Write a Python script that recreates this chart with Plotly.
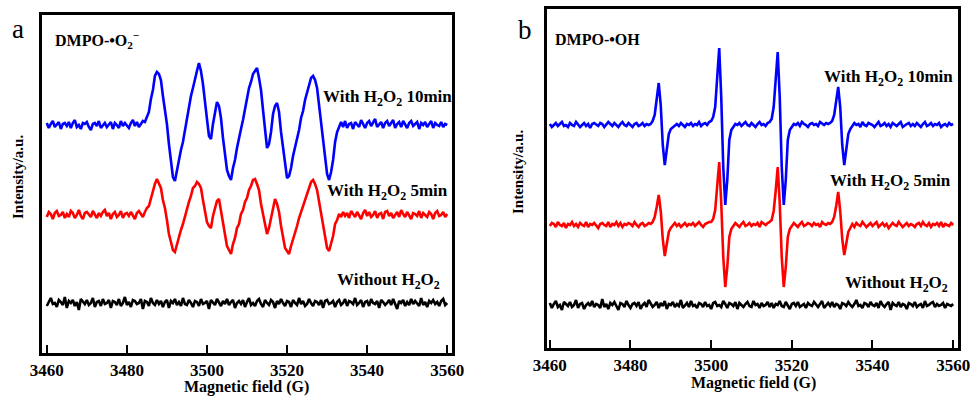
import numpy as np
import plotly.graph_objects as go

# Magnetic field sweep (G), 0.5 G steps
FIELD = np.linspace(3460, 3560, 201)
X_TICKS = [3460, 3480, 3500, 3520, 3540, 3560]

# ---- Panel a : DMPO-•O2-  (intensity, a.u., relative to each spectrum's baseline)
A_10MIN = [
    2, -3, 1, 4, -2, 0, 3, -4, 1, 2,
    -1, 3, -3, 2, 5, -2, 0, -4, 2, 1,
    3, -2, -5, 1, 2, -1, 4, -3, 0, 2,
    -2, 1, 3, -4, 2, 0, -3, 4, -1, 2,
    0, -3, 2, 5, -1, 3, -2, 1, 4, 3,
    9, 13, 26, 35, 49, 53, 51, 45, 29, 16,
    1, -19, -37, -52, -56, -45, -37, -25, -17, -5,
    7, 15, 29, 37, 47, 54, 62, 54, 41, 21,
    6, -11, -14, 1, 13, 23, 19, 7, -13, -29,
    -45, -51, -55, -43, -35, -23, -15, -4, 5, 17,
    25, 37, 43, 51, 54, 57, 47, 35, 15, -3,
    -23, -19, -7, 11, 19, 22, 13, -7, -23, -43,
    -53, -51, -43, -31, -23, -12, -5, 7, 14, 25,
    33, 39, 47, 49, 45, 37, 19, 5, -15, -31,
    -49, -55, -47, -35, -17, -7, -1, 3, -2, 4,
    -3, 1, 2, -4, 3, 0, -2, 5, 1, -3,
    2, 4, -1, 3, 6, -2, 1, 3, -3, 2,
    4, -1, 2, 5, -3, 1, 3, -2, 4, 0,
    -3, 2, 4, -1, 1, 3, -4, 2, 0, 3,
    -2, 1, 4, -3, 2, 0, -1, 3, -2, 1,
    0,
]
A_5MIN = [
    -2, 3, 1, -4, 2, 4, -1, 0, 3, -3,
    1, -2, 4, 2, -3, 0, 5, -1, -4, 2,
    3, 0, -2, 4, 1, -3, 2, -1, 3, 5,
    -1, 2, -4, 1, 3, -2, 0, 4, -3, 1,
    2, -1, 3, 0, -4, 2, 4, 1, -2, 3,
    7, 9, 17, 23, 31, 36, 31, 27, 15, 7,
    -5, -19, -27, -35, -37, -29, -23, -15, -9, -1,
    5, 13, 19, 27, 29, 33, 31, 27, 15, 5,
    -7, -11, -13, -1, 7, 14, 16, 5, -9, -19,
    -31, -35, -39, -29, -23, -13, -9, 1, 5, 13,
    17, 25, 29, 35, 36, 31, 25, 11, 1, -11,
    -19, -13, -3, 9, 16, 11, 3, -11, -21, -33,
    -36, -39, -31, -25, -17, -11, -3, 3, 11, 15,
    23, 27, 33, 35, 31, 25, 13, 3, -11, -21,
    -33, -36, -29, -21, -9, -5, 1, -2, 3, -1,
    2, -3, 4, 1, -2, 3, 0, -4, 2, 5,
    -1, 3, -2, 0, 4, -3, 1, 2, -4, 3,
    4, -1, 2, -3, 0, 3, -2, 5, 1, -2,
    3, 0, -4, 2, 1, -1, 4, -3, 2, 0,
    -2, 3, 1, -4, 2, 4, -1, 0, 3, -2,
    1,
]
A_NONE = [
    -3, 2, 5, -1, 0, -4, 3, 1, -2, 6,
    -5, 2, 0, 3, -3, 1, -7, 4, 2, -1,
    3, -2, 0, 5, -4, 1, 2, -3, 4, -1,
    0, 3, -5, 2, 1, -2, 4, -3, 0, 6,
    -2, 1, -4, 3, 2, -1, 0, 4, -6, 2,
    1, -3, 5, 0, -2, 3, -1, 2, -4, 1,
    3, -5, 2, 0, 4, -2, 1, -3, 5, -1,
    -2, 3, 0, -4, 2, 1, -3, 4, -1, 0,
    2, -6, 3, 1, -2, 4, 0, -3, 2, -1,
    4, -2, 1, 3, -5, 0, 2, -1, 3, -4,
    1, 5, -2, 0, -3, 2, 4, -1, -4, 3,
    0, -2, 3, 1, -5, 2, -1, 4, 0, -3,
    2, 1, -4, 3, 0, -2, 5, -1, 2, -3,
    -1, 4, 0, -3, 2, 1, -2, 3, -5, 2,
    3, -1, 0, 2, -4, 1, 3, -2, 0, 4,
    -3, 2, 1, -1, 5, -2, 0, 3, -4, 1,
    2, -3, 4, 0, -1, 2, -5, 3, 1, -2,
    0, 3, -2, 4, -1, -6, 2, 0, 3, -3,
    1, -2, 4, -1, 2, 0, -3, 5, -2, 1,
    -4, 2, 0, 3, -1, 1, -3, 2, 4, -2,
    0,
]

# ---- Panel b : DMPO-•OH
B_10MIN = [
    1, -2, 0, 2, -1, 1, 3, -1, 0, -2,
    2, 0, -1, 3, 1, -2, 0, 2, -1, 1,
    -3, 1, 2, 0, -1, 2, 1, -2, 0, 3,
    1, -1, 2, 0, -2, 1, 3, 0, -1, 2,
    0, -2, 1, 2, -1, 0, 2, -1, 1, 0,
    1, 4, 10, 25, 42, 20, -20, -40, -24, -9,
    -4, -2, 0, 1, -1, 2, 0, -2, 1, 0,
    2, -1, 1, 0, 3, -1, 1, 2, 0, 3,
    4, 8, 18, 45, 77, 28, -42, -80, -55, -15,
    -5, -2, 1, 0, 2, -1, 1, 3, 0, -1,
    2, 0, -2, 1, 3, 0, 1, -1, 2, 3,
    6, 18, 45, 73, 28, -42, -80, -55, -15, -5,
    -2, 1, 0, 2, -1, 3, 1, 0, -2, 1,
    2, 0, 1, -1, 3, 1, 0, 2, 1, 2,
    4, 10, 24, 38, 18, -20, -40, -24, -9, -4,
    -1, 2, 0, 1, -2, 3, 0, -1, 2, 1,
    0, -2, 1, 3, -1, 0, 2, -1, 1, -2,
    2, 0, -1, 1, 3, -2, 0, 1, 2, -1,
    1, -1, 2, 0, -2, 1, 3, -1, 0, 2,
    -1, 1, 0, 2, -2, 0, 1, -1, 2, 0,
    1,
]
B_5MIN = [
    -1, 2, 1, -2, 3, 0, -1, 2, -3, 1,
    0, 3, -1, 1, -2, 2, 0, -1, 3, -2,
    1, 0, 2, -1, -3, 1, 2, 0, -1, 3,
    -2, 1, 0, 3, -1, 2, -2, 1, 0, 2,
    1, -1, 3, 0, -2, 1, 2, -1, 0, 2,
    1, 3, 8, 18, 30, 14, -14, -31, -18, -7,
    -3, 0, 2, -1, 1, -2, 0, 2, -1, 1,
    0, 2, -1, 1, 3, 0, -2, 1, 2, 3,
    3, 6, 15, 37, 63, 22, -32, -62, -42, -12,
    -4, -1, 2, 0, -2, 1, 3, -1, 0, 2,
    -1, 1, 0, 2, -2, 3, 1, 0, 2, 3,
    5, 14, 34, 58, 22, -32, -62, -42, -12, -4,
    -1, 2, 0, -2, 1, 3, -1, 0, 2, 1,
    -1, 2, 0, 1, -2, 3, 1, 0, 2, 1,
    3, 8, 19, 33, 14, -14, -30, -18, -7, -3,
    1, -2, 2, 0, -1, 3, 1, -2, 0, 2,
    -1, 1, 3, -2, 0, 2, -1, 1, -3, 0,
    2, 0, -1, 3, 1, -2, 0, 2, -1, 1,
    0, -2, 1, 2, -1, 3, 0, -1, 2, -2,
    1, 0, 2, -1, 3, -2, 1, 0, -1, 2,
    0,
]
B_NONE = [
    2, -3, 1, 4, -2, 0, -5, 3, 1, -1,
    3, -2, 0, 5, -3, 1, 2, -4, 0, 2,
    -1, 4, -2, 1, 0, -3, 6, -2, 1, -4,
    2, 0, 3, -1, -5, 2, 1, -2, 4, 0,
    -3, 1, 2, -1, 3, -4, 0, 2, -2, 5,
    1, -2, 0, 3, -3, 2, -1, 4, -4, 1,
    0, 3, -2, 1, -1, 5, -3, 0, 2, -2,
    4, -1, 0, -3, 2, 1, -2, 3, -1, 0,
    -4, 2, 3, -1, 0, -2, 4, 1, -3, 2,
    1, -1, 3, -4, 2, 0, -2, 1, 3, -1,
    -2, 4, 0, 1, -3, 2, -1, 0, 3, -2,
    2, -3, 1, 0, 4, -1, -2, 3, 0, -4,
    1, 2, -1, 3, -2, 0, 1, -3, 2, 0,
    -1, 3, 0, -2, 1, 4, -3, 0, 2, -1,
    3, -2, 1, 0, -4, 2, 1, -1, 3, 0,
    -2, 1, 5, -1, 0, -3, 2, 1, -2, 3,
    0, -1, 2, -3, 4, 0, -2, 1, 3, -5,
    2, 0, -1, 3, -2, 1, 0, -4, 2, 1,
    -1, 3, -2, 0, 1, -3, 4, -1, 0, 2,
    3, -2, 1, -1, 0, 2, -3, 1, 0, -1,
    1,
]

# vertical stacking offsets of the spectra (a.u.)
OFFSET_A = {"10min": 228, "5min": 138, "none": 50}
OFFSET_B = {"10min": 223, "5min": 123, "none": 43}

BLUE, RED, BLACK = "#0000ff", "#ff0000", "#000000"
SERIF = "Liberation Serif"

W, H = 970, 396


def px(x):
    return x / W


def py(y):
    return 1 - y / H


fig = go.Figure()
for vals, key, col in [(A_10MIN, "10min", BLUE), (A_5MIN, "5min", RED), (A_NONE, "none", BLACK)]:
    fig.add_trace(go.Scatter(x=FIELD, y=np.array(vals) + OFFSET_A[key], mode="lines",
                             line=dict(color=col, width=2.6), xaxis="x", yaxis="y",
                             showlegend=False))
for vals, key, col in [(B_10MIN, "10min", BLUE), (B_5MIN, "5min", RED), (B_NONE, "none", BLACK)]:
    fig.add_trace(go.Scatter(x=FIELD, y=np.array(vals) + OFFSET_B[key], mode="lines",
                             line=dict(color=col, width=2.6), xaxis="x2", yaxis="y2",
                             showlegend=False))

xax = dict(tickvals=X_TICKS, ticks="inside", ticklen=8, tickwidth=2, tickcolor="black",
           showline=True, linewidth=2.5, linecolor="black", mirror=True, automargin=False,
           showgrid=False, zeroline=False, ticklabelstandoff=0, ticklabeloverflow="allow",
           tickfont=dict(family=SERIF, size=17, color="black", weight="bold"))
yax = dict(showline=True, linewidth=2.5, linecolor="black", mirror=True, automargin=False,
           showgrid=False, zeroline=False, showticklabels=False, ticks="")

fig.update_layout(
    width=W, height=H, margin=dict(l=0, r=0, t=0, b=0, pad=0, autoexpand=False),
    paper_bgcolor="white", plot_bgcolor="white",
    xaxis=dict(xax, domain=[px(42), px(452)], range=[3458.8, 3561.2], anchor="y"),
    yaxis=dict(yax, domain=[py(353), py(15)], range=[0, 338], anchor="x"),
    xaxis2=dict(xax, domain=[px(547), px(958)], range=[3459.3, 3561.2], anchor="y2"),
    yaxis2=dict(yax, domain=[py(348), py(9)], range=[0, 339], anchor="x2"),
)


def label(text, x, y, size, xanchor="left", bold=True, angle=0):
    fig.add_annotation(text=text, x=px(x), y=py(y), xref="paper", yref="paper",
                       xanchor=xanchor, yanchor="middle", showarrow=False, textangle=angle,
                       font=dict(family=SERIF, size=size, color="black",
                                 weight="bold" if bold else "normal"))


H2O2 = "H<sub>2</sub>O<sub>2</sub>"
# panel a
label("a", 18, 29, 27, xanchor="center", bold=False)
label("DMPO-•O<sub>2</sub><sup>−</sup>", 53, 40, 16)
label("With " + H2O2 + " 10min", 321, 98, 17)
label("With " + H2O2 + " 5min", 325, 192, 17)
label("Without " + H2O2, 335, 281, 17)
label("Magnetic field (G)", 247, 387, 16, xanchor="center")
label("Intensity/a.u.", 18, 177, 15, xanchor="center", angle=-90)
# panel b
label("b", 525, 30, 27, xanchor="center", bold=False)
label("DMPO-•OH", 553, 40, 16)
label("With " + H2O2 + " 10min", 822, 78, 17)
label("With " + H2O2 + " 5min", 828, 182, 17)
label("Without " + H2O2, 843, 284, 17)
label("Magnetic field (G)", 753, 383, 16, xanchor="center")
label("Intensity/a.u.", 518, 172, 15, xanchor="center", angle=-90)

fig.write_html("out.html")
